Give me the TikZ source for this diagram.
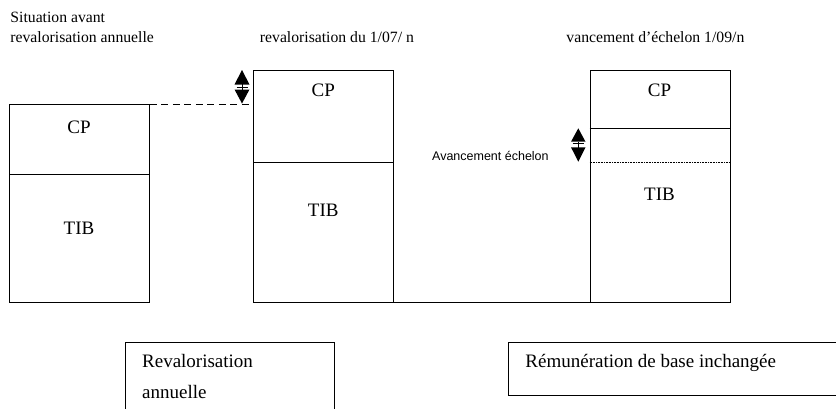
\documentclass[tikz,border=0pt]{standalone}
\usepackage{fontspec}
\setmainfont{Liberation Serif}
\newfontfamily\arialf{Liberation Sans}
\begin{document}
\begin{tikzpicture}[x=1pt,y=-1pt,line width=0.9pt,
  colbox/.style={draw, rectangle, inner sep=0pt, minimum width=140pt, anchor=north west},
  lbl/.style={inner sep=0pt, anchor=base, font=\fontsize{19}{23}\selectfont},
  ttl/.style={inner sep=0pt, anchor=base west, font=\fontsize{15.7}{19}\selectfont},
  btxt/.style={inner sep=0pt, anchor=base west, font=\fontsize{19}{23}\selectfont},
  tri/.style={fill=black, draw=none}]
\useasboundingbox (0,0) rectangle (836,408);

% titles
\node[ttl] (t1a) at (10,22) {Situation avant};
\node[ttl] (t1b) at (10,42.5) {revalorisation annuelle};
\node[ttl] (t2) at (259.5,42.5) {revalorisation du 1/07/ n};
\node[ttl] (t3) at (566,42.5) {vancement d’échelon 1/09/n};

% column boxes
\node[colbox, minimum height=197.7pt] (b1) at (9,104.3) {};
\node[colbox, minimum height=232pt] (b2) at (253.3,70) {};
\node[colbox, minimum height=232pt] (b3) at (589.5,70) {};

% dividers
\draw (9,174.3) -- (149,174.3);
\draw (253.3,162.5) -- (393.3,162.5);
\draw (589.5,128) -- (729.5,128);
\draw[dotted, line width=1pt, dash pattern=on 1pt off 0.6pt] (589.5,162.7) -- (729.5,162.7);

% baseline joining box 2 and box 3
\draw (b2.south east) -- (b3.south west);

% dashed level line
\draw[dash pattern=on 7pt off 4.5pt] (b1.north east) -- (b1.north east -| b2.west);

% labels in boxes
\node[lbl] (cp1) at (79,133.3) {CP};
\node[lbl] (tib1) at (79,234.5) {TIB};
\node[lbl] (cp2) at (323.3,96.7) {CP};
\node[lbl] (tib2) at (323.3,216) {TIB};
\node[lbl] (cp3) at (659.5,96.7) {CP};
\node[lbl] (tib3) at (659.5,200) {TIB};

\node[inner sep=0pt, anchor=base west, font=\arialf\fontsize{12.5}{15}\selectfont] (av) at (431.7,160) {Avancement échelon};

% double arrow 1
\fill[tri] (242,70) -- (249.5,84.5) -- (234.5,84.5) -- cycle;
\fill[tri] (242,103.5) -- (249.5,89.5) -- (234.5,89.5) -- cycle;
\draw[line width=0.8pt] (242,84) -- (242,90);
\draw[line width=0.8pt] (236.5,87) -- (247.5,87);

% double arrow 2
\fill[tri] (578.3,128.3) -- (585.5,141.7) -- (571,141.7) -- cycle;
\fill[tri] (578.3,161.7) -- (585.5,147.3) -- (571,147.3) -- cycle;
\draw[line width=0.8pt] (578.3,141.5) -- (578.3,147.5);
\draw[line width=0.8pt] (572.5,143.8) -- (584,143.8);

% bottom boxes
\node[draw, rectangle, inner sep=0pt, minimum width=208.7pt, minimum height=100pt, anchor=north west] (rb1) at (125.3,341.7) {};
\node[draw, rectangle, inner sep=0pt, minimum width=340pt, minimum height=53.3pt, anchor=north west] (rb2) at (508.3,341.7) {};
\node[btxt] (r1a) at (141.7,367) {Revalorisation};
\node[btxt] (r1b) at (141.7,398.3) {annuelle};
\node[btxt] (r2) at (525,367) {Rémunération de base inchangée};
\end{tikzpicture}
\end{document}
